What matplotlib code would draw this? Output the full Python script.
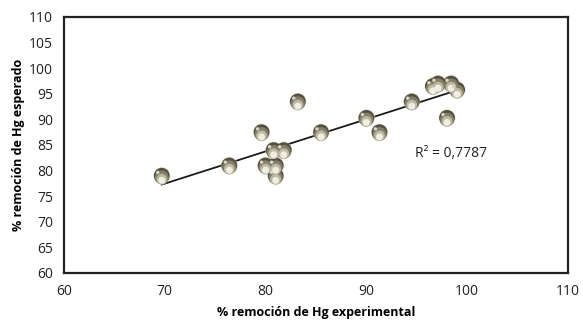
import matplotlib
matplotlib.use("Agg")
import matplotlib.pyplot as plt
import numpy as np

x_exp = [69.7, 76.4, 79.6, 80.0, 80.8, 81.0, 81.0, 81.8, 83.2, 85.5, 90.0, 91.3, 94.5, 96.6, 97.1, 98.4, 99.0, 98.0]
y_esp = [79.0, 81.0, 87.5, 81.0, 84.0, 81.0, 79.0, 84.0, 93.5, 87.5, 90.3, 87.5, 93.5, 96.5, 97.0, 97.0, 95.8, 90.3]
r2_label = "R² = 0,7787"
x_ticks = [60, 70, 80, 90, 100, 110]
y_ticks = [60, 65, 70, 75, 80, 85, 90, 95, 100, 105, 110]

plt.rcParams['font.family'] = ['Open Sans', 'DejaVu Sans']

fig = plt.figure(figsize=(5.83, 3.31), dpi=100)
ax = fig.add_axes([64/583, 1-273/331, (568-64)/583, (273-17)/331])

# trendline
coef = np.polyfit(x_exp, y_esp, 1)
xl = np.array([min(x_exp), max(x_exp)])
ax.plot(xl, np.polyval(coef, xl), color='#1a1a1a', lw=1.3, zorder=2)

# shaded sphere markers
xs = np.array(x_exp); ys = np.array(y_esp)
ax.scatter(xs, ys, s=150, color='#d8d5c8', edgecolors='none', zorder=3, alpha=0.6)
ax.scatter(xs, ys, s=130, color='#55503f', edgecolors='none', zorder=3)
ax.scatter(xs, ys - 0.35, s=100, color='#847f68', edgecolors='none', zorder=4)
ax.scatter(xs, ys - 0.7, s=60, color='#bdb8a0', edgecolors='none', zorder=5)
ax.scatter(xs, ys - 0.9, s=25, color='#efeee5', edgecolors='none', zorder=6)
ax.scatter(xs - 0.4, ys + 0.65, s=6, color='#d8d6cc', edgecolors='none', zorder=6)

ax.set_xlim(60, 110)
ax.set_ylim(60, 110)
ax.set_xticks(x_ticks)
ax.set_yticks(y_ticks)
ax.tick_params(length=0, labelsize=10, pad=8, colors='#222222')
for s in ax.spines.values():
    s.set_linewidth(1.6)
    s.set_color('#222222')

ax.set_xlabel('% remoción de Hg experimental', fontsize=9, fontweight='bold', labelpad=5)
ax.set_ylabel('% remoción de Hg esperado', fontsize=9, fontweight='bold', labelpad=3)
ax.text(102.0, 83.4, r2_label, fontsize=10, ha='right', va='center', color='#222222')

fig.savefig('out.png', dpi=100)
